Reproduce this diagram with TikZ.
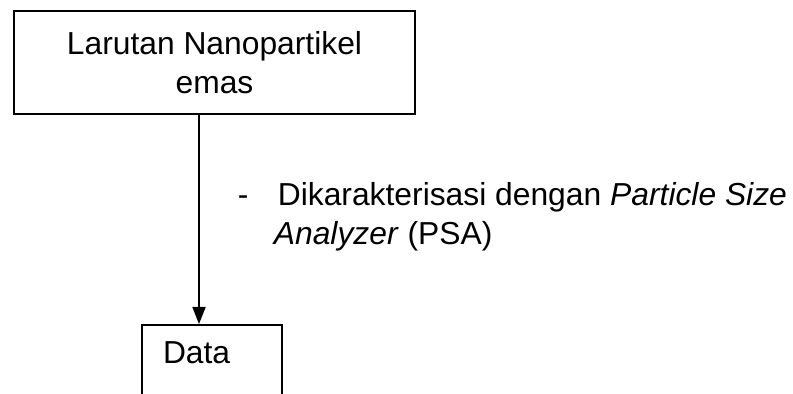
\documentclass[tikz,border=0pt]{standalone}
\usepackage{fontspec}
\setmainfont{Liberation Sans}
\usetikzlibrary{positioning,arrows.meta}

\begin{document}
\begin{tikzpicture}[x=0.5pt,y=0.5pt,>={Triangle[length=8.5pt,width=6.5pt]},
                    line width=0.9pt,
                    every node/.style={font=\fontsize{15.9}{19.5}\selectfont},
                    box/.style={draw,rectangle,inner sep=0pt}]
\useasboundingbox (0,0) rectangle (793,394);

\node[box,align=center,minimum width=200.5pt,minimum height=51.5pt] (lar) at (214.5,331.5) {Larutan Nanopartikel\\emas};
\node[box,anchor=north,text width=49pt,inner xsep=10.5pt,inner ysep=0pt,
      text height=19.5pt,text depth=50pt,align=left] (data) at (212,70) {Data};

\coordinate (ax) at (199,0);
\draw[->] (lar.south -| ax) -- (data.north -| ax);

% base anchor sits on the last line
\node[anchor=base west,align=left,inner sep=0pt] (psa) at (237,149)
    {\makebox[20pt][l]{-}Dikarakterisasi dengan \textit{Particle Size}\\
     \hspace*{18pt}\textit{Analyzer} (PSA)};

\end{tikzpicture}
\end{document}
